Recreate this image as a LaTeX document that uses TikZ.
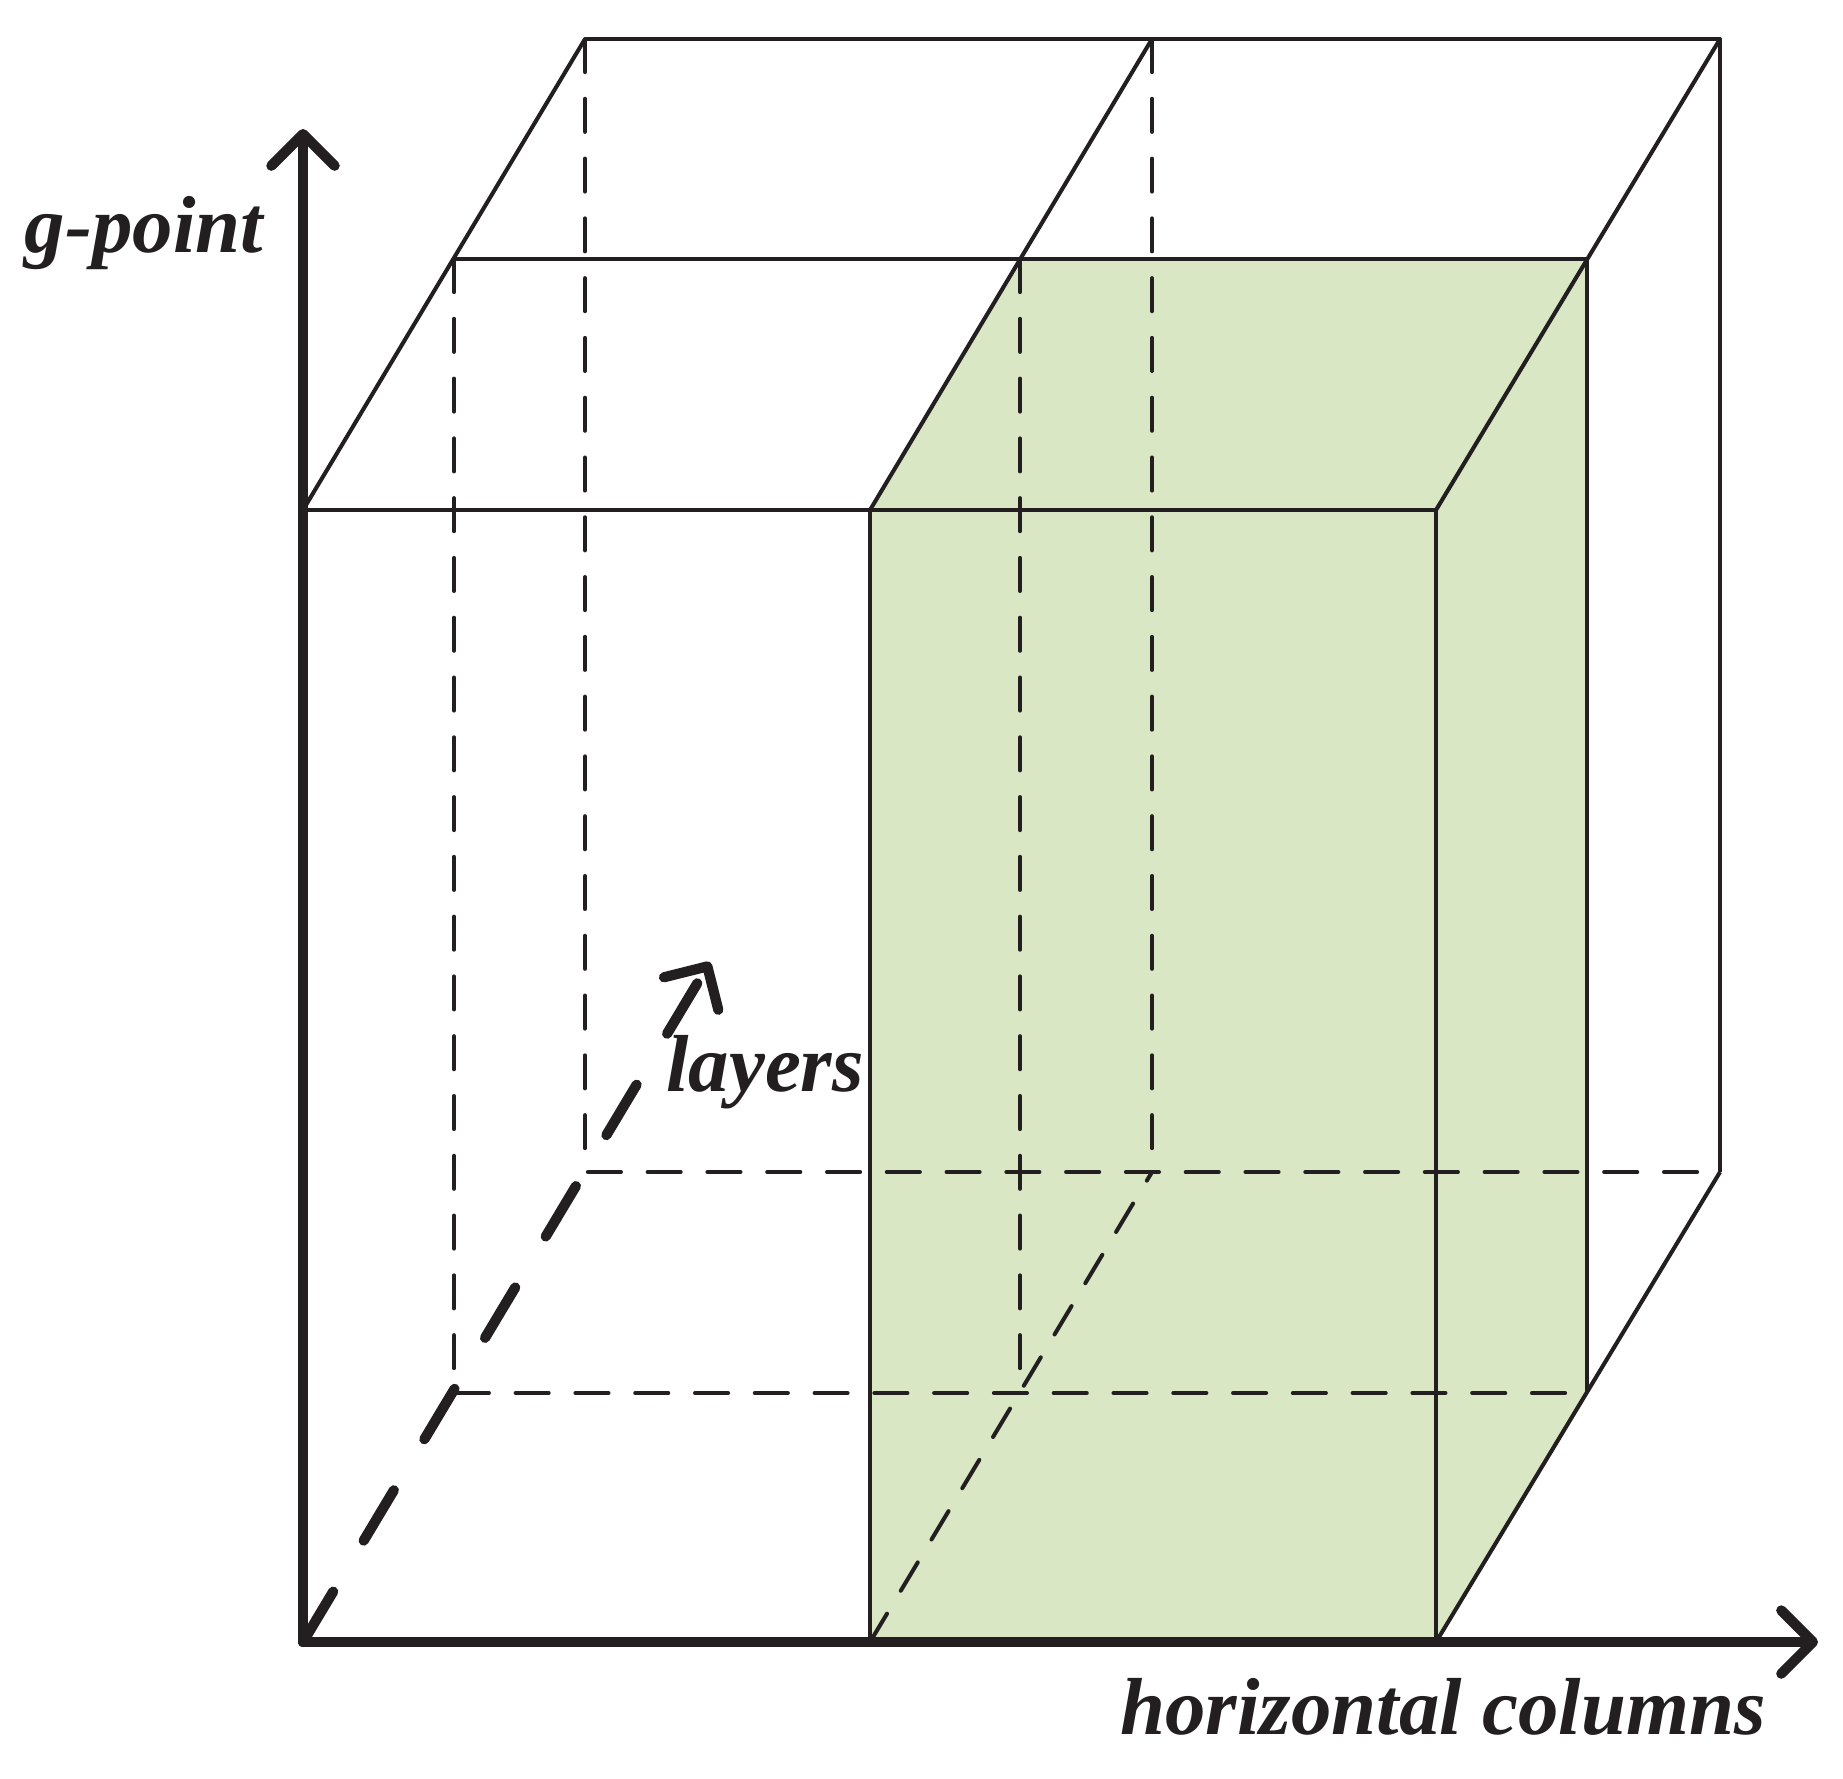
\documentclass[tikz,border=0pt]{standalone}
\usepackage{fontspec}
\setmainfont{Liberation Serif}
\usetikzlibrary{arrows.meta}
\usetikzlibrary{calc}

\definecolor{ink}{RGB}{35,31,32}
\definecolor{colgreen}{RGB}{217,231,196}

\tikzset{
  edge line/.style={draw=ink, line width=1.15pt, line join=round},
  hidden line/.style={draw=ink, line width=1.15pt, line cap=round, dash pattern=on 9.4pt off 7.6pt},
  axis line/.style={draw=ink, line width=2.9pt, line cap=round, -{Straight Barb[length=9pt,width=18pt,round]}},
  label text/.style={font=\fontsize{23}{27}\selectfont\bfseries\itshape, text=ink, inner sep=0pt, anchor=base},
}

\begin{document}
\begin{tikzpicture}[x=0.01cm, y=-0.01cm]
   \useasboundingbox (0,0) rectangle (1843,1778);
   % corners of the three layers (front, middle, back)
   \coordinate (ft0) at (303,510);  \coordinate (ft1) at (870,510);  \coordinate (ft2) at (1436,510);
   \coordinate (fb0) at (303,1642); \coordinate (fb1) at (870,1642); \coordinate (fb2) at (1436,1642);
   \coordinate (mt0) at (454,259);  \coordinate (mt1) at (1020,259); \coordinate (mt2) at (1587,259);
   \coordinate (mb0) at (454,1393); \coordinate (mb1) at (1020,1393); \coordinate (mb2) at (1587,1393);
   \coordinate (bt0) at (585,39);   \coordinate (bt1) at (1152,39);  \coordinate (bt2) at (1720,39);
   \coordinate (bb0) at (585,1172); \coordinate (bb1) at (1152,1172); \coordinate (bb2) at (1720,1172);
   % axis ends
   \coordinate (yend) at (303,129);
   \coordinate (xend) at (1818,1642);
   \coordinate (zend) at (710,962);

   % highlighted column
   \fill[colgreen] (fb1) -- (fb2) -- (mb2) -- (mt2) -- (mt1) -- (ft1) -- cycle;

   % hidden edges
   \draw[hidden line] (mt0) -- (mb0) -- (mb2);
   \draw[hidden line] (bt0) -- (bb0) -- (bb2);
   \draw[hidden line] (mt1) -- (mb1);
   \draw[hidden line] (bt1) -- (bb1);
   \draw[hidden line] (fb1) -- (bb1);

   % visible edges
   \draw[edge line] (ft0) -- (ft2) -- (fb2);
   \draw[edge line] (ft1) -- (fb1);
   \draw[edge line] (mt0) -- (mt2) -- (mb2);
   \draw[edge line] (bt0) -- (bt2) -- (bb2);
   \draw[edge line] (ft0) -- (bt0);
   \draw[edge line] (ft1) -- (bt1);
   \draw[edge line] (ft2) -- (bt2);
   \draw[edge line] (fb2) -- (bb2);

   % axes
   \draw[axis line] (fb0) -- (yend);
   \draw[axis line] (fb0) -- (xend);
   \draw[axis line, dash pattern=on 16.7pt off 16.9pt] (fb0) -- (zend);

   % labels
   \node[label text] (gpoint) at (144,252) {g-point};
   \node[label text] (hcols) at (1443,1734) {horizontal columns};
   \node[label text] (layers) at (765,1091) {layers};
\end{tikzpicture}
\end{document}
